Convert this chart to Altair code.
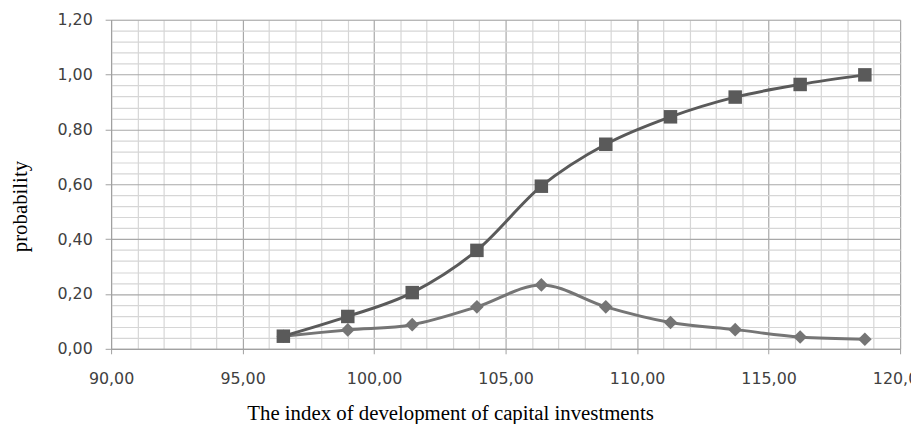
import altair as alt
import pandas as pd

# Data
x_values = [96.55, 99.00, 101.45, 103.91, 106.36, 108.81, 111.27, 113.73, 116.20, 118.66]
cumulative = [0.046, 0.118, 0.205, 0.359, 0.593, 0.746, 0.846, 0.918, 0.964, 0.999]
density = [0.046, 0.069, 0.088, 0.153, 0.233, 0.153, 0.096, 0.070, 0.043, 0.035]

x_ticks = list(range(90, 121))
y_ticks = [round(i * 0.04, 2) for i in range(31)]

df_cum = pd.DataFrame({"x": x_values, "p": cumulative})
df_den = pd.DataFrame({"x": x_values, "p": density})

x_major = "datum.value % 5 === 0"
y_major = "abs(datum.value * 5 - round(datum.value * 5)) < 0.001"

x_scale = alt.Scale(domain=[90, 120], nice=False, zero=False)
y_scale = alt.Scale(domain=[0, 1.2], nice=False)

x_axis = alt.Axis(
    title="The index of development of capital investments",
    values=x_ticks,
    tickCount=200,
    labelExpr=f"{x_major} ? replace(format(datum.value, '.2f'), '.', ',') : ''",
    labelFlush=False,
    labelOverlap=False,
    labelFont="DejaVu Sans",
    labelFontSize=16,
    labelColor="#404040",
    labelPadding=17,
    tickSize={"condition": {"test": x_major, "value": 5}, "value": 0},
    tickColor="#a0a0a0",
    domainColor="#a0a0a0",
    gridColor={"condition": {"test": x_major, "value": "#a8a8a8"}, "value": "#d6d6d6"},
    gridWidth=1.2,
    titleFont="Liberation Serif",
    titleFontSize=21,
    titleFontWeight="normal",
    titleColor="#000000",
    titleX=342,
    titleY=71,
    titleAlign="center",
    titleBaseline="alphabetic",
)

y_axis = alt.Axis(
    title="probability",
    values=y_ticks,
    tickCount=200,
    labelExpr=f"{y_major} ? replace(format(datum.value, '.2f'), '.', ',') : ''",
    labelOverlap=False,
    labelFont="DejaVu Sans",
    labelFontSize=16,
    labelColor="#404040",
    labelPadding=13,
    tickSize={"condition": {"test": y_major, "value": 6}, "value": 0},
    tickColor="#a0a0a0",
    domainColor="#a0a0a0",
    gridColor={"condition": {"test": y_major, "value": "#a8a8a8"}, "value": "#d6d6d6"},
    gridWidth=1.2,
    titleFont="Liberation Serif",
    titleFontSize=21,
    titleFontWeight="normal",
    titleColor="#000000",
    titleX=-85,
    titleY=188,
    titleAngle=270,
    titleAlign="center",
    titleBaseline="alphabetic",
)

den_color = "#757575"
cum_color = "#5a5a5a"

den_line = alt.Chart(df_den).mark_line(
    interpolate="cardinal", color=den_color, strokeWidth=3
).encode(
    x=alt.X("x:Q", scale=x_scale, axis=x_axis),
    y=alt.Y("p:Q", scale=y_scale, axis=y_axis),
)
den_pts = alt.Chart(df_den).mark_point(
    shape="diamond", filled=True, size=190, color=den_color, opacity=1
).encode(x="x:Q", y="p:Q")

cum_line = alt.Chart(df_cum).mark_line(
    interpolate="cardinal", color=cum_color, strokeWidth=3
).encode(x="x:Q", y="p:Q")
cum_pts = alt.Chart(df_cum).mark_point(
    shape="square", filled=True, size=185, color=cum_color, opacity=1
).encode(x="x:Q", y="p:Q")

chart = alt.layer(den_line, den_pts, cum_line, cum_pts).properties(
    width=796,
    height=332,
    autosize=alt.AutoSizeParams(type="none"),
    padding={"left": 104, "top": 10, "right": 11, "bottom": 74},
).configure_view(stroke="#a8a8a8", strokeWidth=1.2).configure(background="white")

chart.save("out.html", embed_options={"renderer": "svg", "actions": False})
